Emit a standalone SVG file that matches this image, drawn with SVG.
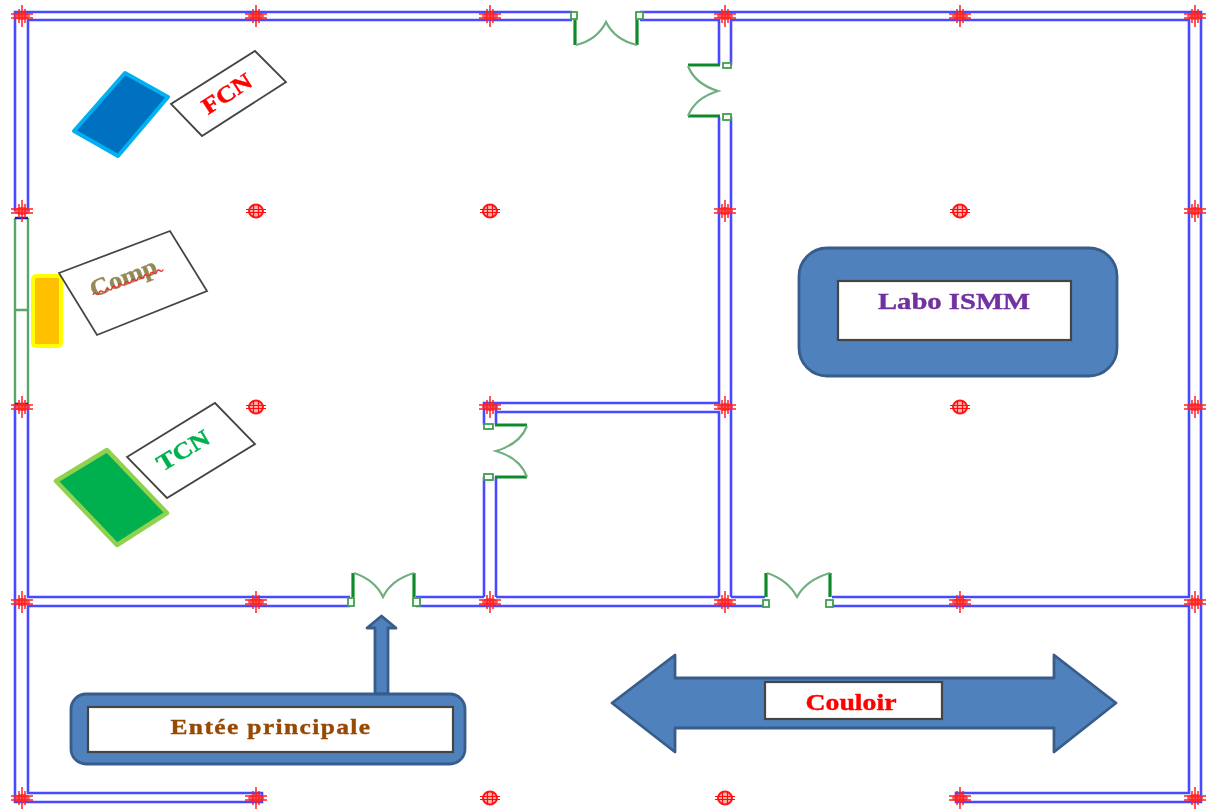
<svg xmlns="http://www.w3.org/2000/svg" width="1211" height="809" viewBox="0 0 1211 809">
<style>
text{font-family:"Liberation Serif","DejaVu Serif",serif;font-weight:bold;text-anchor:middle;stroke-width:.4}
.wall{fill:none;stroke:#4a4aff;stroke-width:2.6}
.cap{fill:none;stroke:#1a1ab0;stroke-width:2.5}
.win{fill:none;stroke:#5aa56a;stroke-width:2.4}
.leaf{fill:none;stroke:#0f8a2a;stroke-width:3.2}
.arc{fill:none;stroke:#6fae7f;stroke-width:2.2}
.hinge{fill:#fff;stroke:#3fa050;stroke-width:1.8}
.blue{fill:#4f81bd;stroke:#385d8a;stroke-width:2.8;stroke-linejoin:round}
.lab{fill:#fff;stroke:#444;stroke-width:2.2}
.tag{fill:#fff;stroke:#444;stroke-width:1.8}
.grid{fill:none;stroke:#ff2020;stroke-width:1.5}
</style>
<defs>
<filter id="soft" x="0" y="0" width="100%" height="100%"><feGaussianBlur stdDeviation="0.75"/></filter>
<g id="gridRound"><ellipse cx="0" cy="0" rx="7" ry="6.500" fill="#ffb0b0" stroke="#ff1818" stroke-width="2"/><path d="M-2.500,-6V6M2.500,-6V6M-10,-1.500H10M-10,1.500H10" fill="none" stroke="#ff1010" stroke-width="1.200"/></g>
<g id="gridWall"><ellipse cx="0" cy="0" rx="8" ry="4" fill="#ff3030" opacity=".8"/><path class="grid" d="M-3,-7V7M3,-7V7M-11,-2H11M-11,2H11M0,-11V11"/></g>
</defs>
<rect width="1211" height="809" fill="#fff"/>
<g filter="url(#soft)">
<g id="connectors">
<path class="wall" d="M572,12H15V211M572,20H28V211M15,405V802H262V793H28V606H350M28,405V597H350M640,12H1201V802H956V793H1189V606H832M640,20H719V65M731,65V20H1189V597H832M731,117V597M719,117V403H496V412H719V597M496,403H484V425M496,412V425M484,477V597M496,477V597M416,597H484M496,597H719M731,597H765M416,606H765"/>
<path id="window" class="win" d="M15,218V405M28,218V405M15,310H28"/>
<path class="cap" d="M15,218H28M15,404H28"/>
</g>
<g id="door-top"><path class="leaf" d="M575,20V45M637,20V45"/><path class="arc" d="M576,45Q597,40 606,22Q615,40 637,45"/><rect class="hinge" x="571" y="12" width="6" height="7"/><rect class="hinge" x="636" y="12" width="7" height="7"/></g>
<g id="door-right"><path class="leaf" d="M720,65H688M720,116H688"/><path class="arc" d="M688,66Q695,84 718,91Q695,98 688,116"/><rect class="hinge" x="723" y="63" width="8" height="5"/><rect class="hinge" x="723" y="114" width="8" height="6"/></g>
<g id="door-inner"><path class="leaf" d="M495,425H527M495,477H527"/><path class="arc" d="M527,426Q520,444 496,451Q520,458 527,477"/><rect class="hinge" x="484" y="424" width="9" height="5"/><rect class="hinge" x="484" y="474" width="9" height="6"/></g>
<g id="door-entry"><path class="leaf" d="M353,573V597M414,573V597"/><path class="arc" d="M354,573Q375,580 383,597Q391,580 414,573"/><rect class="hinge" x="348" y="598" width="6" height="8"/><rect class="hinge" x="413" y="598" width="7" height="8"/></g>
<g id="door-corridor"><path class="leaf" d="M766,573V597M830,573V597"/><path class="arc" d="M767,573Q788,580 797,597Q806,580 830,573"/><rect class="hinge" x="763" y="600" width="6" height="7"/><rect class="hinge" x="826" y="600" width="7" height="7"/></g>
<g id="grid">
<use href="#gridWall" x="22" y="16"/><use href="#gridWall" x="256" y="16"/><use href="#gridWall" x="490" y="16"/><use href="#gridWall" x="725" y="16"/><use href="#gridWall" x="960" y="16"/><use href="#gridWall" x="1195" y="16"/>
<use href="#gridWall" x="22" y="211"/><use href="#gridRound" x="256" y="211"/><use href="#gridRound" x="490" y="211"/><use href="#gridWall" x="725" y="211"/><use href="#gridRound" x="960" y="211"/><use href="#gridWall" x="1195" y="211"/>
<use href="#gridWall" x="22" y="407"/><use href="#gridRound" x="256" y="407"/><use href="#gridWall" x="490" y="407"/><use href="#gridWall" x="725" y="407"/><use href="#gridRound" x="960" y="407"/><use href="#gridWall" x="1195" y="407"/>
<use href="#gridWall" x="22" y="602"/><use href="#gridWall" x="256" y="602"/><use href="#gridWall" x="490" y="602"/><use href="#gridWall" x="725" y="602"/><use href="#gridWall" x="960" y="602"/><use href="#gridWall" x="1195" y="602"/>
<use href="#gridWall" x="22" y="798"/><use href="#gridWall" x="256" y="798"/><use href="#gridRound" x="490" y="798"/><use href="#gridRound" x="725" y="798"/><use href="#gridWall" x="960" y="798"/><use href="#gridWall" x="1195" y="798"/>
</g>
<g id="fcn-device"><polygon points="125,73 168,97 118,156 74,131" fill="#0070c0" stroke="#00b0f0" stroke-width="4" stroke-linejoin="round"/></g>
<g id="fcn-label"><polygon class="tag" points="255,51 286,82 202,136 171,104"/><text transform="translate(231,100) rotate(-33)" font-size="23" textLength="55" lengthAdjust="spacingAndGlyphs" fill="#ff0000" stroke="#ff0000">FCN</text></g>
<g id="comp-device"><rect x="33" y="276" width="28" height="70" rx="3" fill="#ffc000" stroke="#ffff00" stroke-width="4"/></g>
<g id="comp-label"><polygon class="tag" points="59,273 170,231 207,291 97,335"/><text transform="translate(126,285) rotate(-21)" font-size="24" textLength="70" lengthAdjust="spacingAndGlyphs" fill="#948a54" stroke="#948a54">Comp</text><path transform="translate(93,295) rotate(-20) scale(1.13,1)" d="M0,0q1.500,-2.500 3,0t3,0t3,0t3,0t3,0t3,0t3,0t3,0t3,0t3,0t3,0t3,0t3,0t3,0t3,0t3,0t3,0t3,0t3,0t3,0t3,0t3,0" fill="none" stroke="#e83030" stroke-width="1.300"/></g>
<g id="tcn-device"><polygon points="107,450 167,513 117,545 56,481" fill="#00b050" stroke="#92d050" stroke-width="4.500" stroke-linejoin="round"/></g>
<g id="tcn-label"><polygon class="tag" points="127,457 215,403 255,444 167,498"/><text transform="translate(187,457) rotate(-31)" font-size="23" textLength="58" lengthAdjust="spacingAndGlyphs" fill="#00b050" stroke="#00b050">TCN</text></g>
<g id="labo"><rect class="blue" x="799" y="248" width="318" height="128" rx="28"/><rect class="lab" x="838" y="281" width="233" height="59"/><text x="954" y="309" font-size="23" textLength="152" lengthAdjust="spacingAndGlyphs" fill="#7030a0" stroke="#7030a0">Labo ISMM</text></g>
<g id="entree-arrow"><polygon class="blue" points="381.500,616 396,628 388,628 388,694 375,694 375,628 367,628"/></g>
<g id="entree"><rect class="blue" x="71" y="694" width="394" height="70" rx="15" stroke-width="3"/><rect class="lab" x="88" y="707" width="365" height="45"/><text x="271" y="734" font-size="22" letter-spacing="1.200" textLength="201" lengthAdjust="spacingAndGlyphs" fill="#984806" stroke="#984806">Entée principale</text></g>
<g id="couloir"><polygon class="blue" points="612,703 675,655 675,678 1054,678 1054,655 1116,703 1054,752 1054,728 675,728 675,752"/><rect class="lab" x="765" y="682" width="177" height="37"/><text x="851" y="710" font-size="24" textLength="91" lengthAdjust="spacingAndGlyphs" fill="#ff0000" stroke="#ff0000">Couloir</text></g>
</g>
</svg>
